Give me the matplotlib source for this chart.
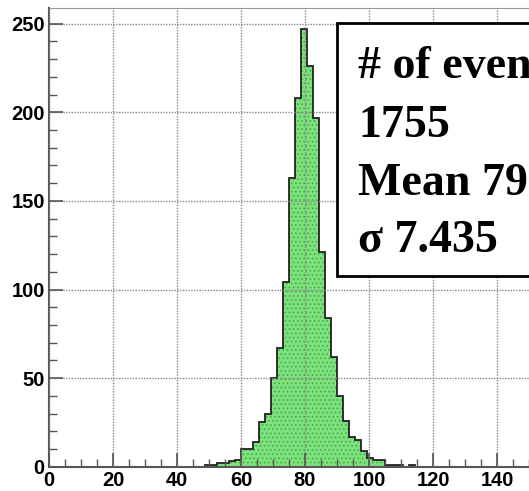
import numpy as np
import matplotlib
matplotlib.use("Agg")
import matplotlib.pyplot as plt
from matplotlib.patches import Rectangle

# histogram: 80 bins over 0-150, only the filled range is listed
bin_width = 1.875
first_bin = 26
counts = [1, 1, 2, 2, 3, 4, 10, 10, 14, 25, 30, 50, 67, 104, 163, 208, 247,
          226, 197, 121, 84, 62, 40, 26, 17, 15, 9, 5, 4, 4, 1, 1, 1, 0, 1]

stat_lines = ["# of events", "1755", "Mean 79.66", "\u03c3 7.435"]

x_ticks = [0, 20, 40, 60, 80, 100, 120, 140]
y_ticks = [0, 50, 100, 150, 200, 250]

plt.rcParams["font.family"] = "Liberation Sans"
plt.rcParams["font.weight"] = "bold"
plt.rcParams["hatch.linewidth"] = 0.7

W, H = 529, 491
fig = plt.figure(figsize=(W / 100, H / 100), dpi=100)
ax = fig.add_axes([49 / W, (H - 466.7) / H, 480 / W, (466.7 - 8.3) / H])

edges = first_bin * bin_width + bin_width * np.arange(len(counts) + 1)

# green fill with dotted pattern, then dark outline
ax.stairs(counts, edges, fill=True, facecolor="#80e080", edgecolor="#3cb43c",
          hatch="....", linewidth=0, zorder=1)
ax.stairs(counts, edges, color="#222222", linewidth=1.3, zorder=2)

ax.set_xlim(0, 150)
ax.set_ylim(0, 258.7)
ax.set_xticks(x_ticks)
ax.set_yticks(y_ticks)
ax.set_xticks(np.arange(0, 151, 5), minor=True)
ax.set_yticks(np.arange(0, 251, 10), minor=True)

ax.grid(True, which="major", color="#888888", linestyle=(0, (1, 1)), linewidth=1)
ax.set_axisbelow(False)

ax.tick_params(which="major", direction="in", length=10, width=1.2,
               color="#555555", labelsize=14.5, pad=3)
ax.tick_params(which="minor", direction="in", length=5.5, width=1.0,
               color="#555555")

for side in ["left", "bottom"]:
    ax.spines[side].set_color("#555555")
    ax.spines[side].set_linewidth(1.5)
ax.spines["top"].set_color("#999999")
ax.spines["top"].set_linewidth(0.8)
ax.spines["right"].set_visible(False)

# stats box, running off the right edge like the original
box = Rectangle((336.7 / W, 1 - 276 / H), 1, (276 - 23.3) / H,
                transform=fig.transFigure, facecolor="white",
                edgecolor="black", linewidth=2, zorder=5)
fig.add_artist(box)
baselines = [78, 137, 195, 252]
for txt, yb in zip(stat_lines, baselines):
    fig.text(358 / W, 1 - yb / H, txt, family="Liberation Serif",
             weight="bold", size=33, va="baseline", zorder=6)

fig.savefig("out.png", dpi=100)
